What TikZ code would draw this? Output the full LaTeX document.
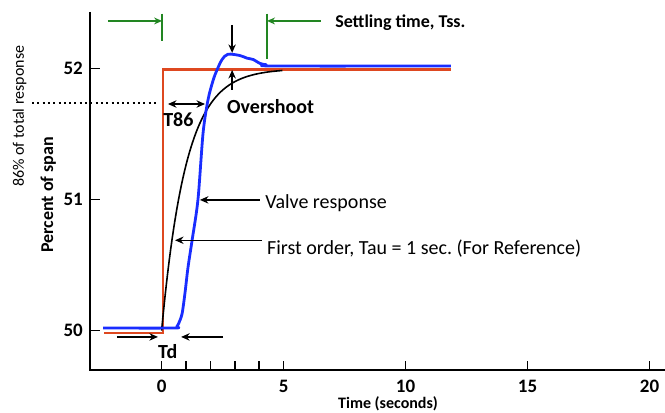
\documentclass[tikz,border=0pt]{standalone}
\usepackage{fontspec}
\setmainfont{Carlito}
\usetikzlibrary{arrows.meta}
\definecolor{stepred}{RGB}{222,72,32}
\definecolor{valveblue}{RGB}{25,45,255}
\definecolor{tssgreen}{RGB}{34,134,34}
\frenchspacing

\begin{document}
\begin{tikzpicture}[x=24.4pt, y=131pt, font=\fontsize{20}{24}\selectfont,
  ax/.style={line width=1.5pt}, tick/.style={font=\fontsize{19}{22}\selectfont\bfseries, inner sep=0pt},
  pt/.style={-{Stealth[length=3mm, width=2.6mm]}, line width=1.4pt},
  gr/.style={tssgreen, line width=1.3pt}, grpt/.style={gr, -{Stealth[length=2.8mm, width=2.4mm]}},
  lbl/.style={inner sep=0pt, anchor=base west}]
\useasboundingbox (-6.623,-0.628) rectangle (20.631,2.524);
% axes
\draw[ax] (-2.93,2.433) -- (-2.93,-0.30) -- (20.63,-0.30);
\foreach \v in {0,1,2} {
  \draw[ax] (-2.93,\v) -- (-2.52,\v);
  \node[tick, anchor=east] (yl\v) at (-3.22,\v) {5\v};
}
\foreach \t in {0,5,10,15,20} {
  \draw[ax] (\t,-0.30) -- (\t,-0.23);
  \node[tick, anchor=north] (xl\t) at (\t,-0.375) {\t};
}
\foreach \t in {1,...,4} \draw[ax] (\t,-0.30) -- (\t,-0.23);
\node[lbl, font=\fontsize{16}{19}\selectfont\bfseries, anchor=base] (time) at (9.28,-0.594) {Time (seconds)};
\node[lbl, rotate=90, font=\fontsize{18}{21}\selectfont\bfseries] (span) at (-4.45,0.593) {Percent of span};
\node[lbl, rotate=90, font=\fontsize{16}{19}\selectfont] (pct) at (-5.64,1.097) {86\% of total response};
% responses
\draw[stepred, line width=2.2pt] (-2.36,-0.015) -- (0.05,-0.015) -- (0.05,1.994) -- (11.86,1.994);
\draw[line width=1.6pt] plot[domain=0:4.95, samples=80] (\x,{2*(1-exp(-\x))});
\draw[valveblue, line width=2.8pt, line join=round] plot[smooth, tension=0.5] coordinates {
  (-2.40,0.02) (0.50,0.02) (0.62,0.03) (0.71,0.06) (0.84,0.13) (0.96,0.29) (1.08,0.48)
  (1.25,0.69) (1.49,1.00) (1.70,1.51) (1.90,1.76) (2.11,1.91) (2.27,1.99) (2.48,2.07)
  (2.72,2.11) (3.21,2.10) (3.50,2.08) (3.75,2.07) (4.03,2.04) (4.28,2.03) (4.65,2.02) (11.86,2.02)};
% 86% level and T86
\coordinate (d0) at (-5.31,1.737); \coordinate (d1) at (-0.15,1.737);
\draw[line width=2pt, dash pattern=on 2pt off 3.3pt] (d0) -- (d1);
\coordinate (t0) at (0.26,1.73); \coordinate (t1) at (1.78,1.73);
\draw[pt, {Stealth[length=3mm, width=2.6mm]}-{Stealth[length=3mm, width=2.6mm]}] (t0) -- (t1);
\node[lbl, font=\fontsize{20}{24}\selectfont\bfseries] (t86) at (0.06,1.557) {T86};
% overshoot
\coordinate (os0) at (2.89,2.334); \coordinate (os1) at (2.89,2.12);
\coordinate (os2) at (2.89,1.84); \coordinate (os3) at (2.89,1.99);
\draw[pt] (os0) -- (os1);
\draw[pt] (os2) -- (os3);
\node[lbl, font=\fontsize{20}{24}\selectfont\bfseries] (over) at (2.68,1.66) {Overshoot};
% settling time
\coordinate (g0) at (0.02,2.42); \coordinate (g1) at (0.02,2.21);
\coordinate (g2) at (4.32,2.42); \coordinate (g3) at (4.32,2.07);
\coordinate (ga) at (-2.20,2.364); \coordinate (gb) at (6.53,2.364);
\draw[gr] (g0) -- (g1);
\draw[gr] (g2) -- (g3);
\draw[grpt] (ga) -- (g0 |- ga);
\draw[grpt] (gb) -- (g2 |- gb);
\node[lbl, font=\fontsize{18}{21}\selectfont\bfseries] (tss) at (7.11,2.311) {Settling time, Tss.};
% curve labels
\node[lbl] (valve) at (4.24,0.929) {Valve response};
\node[lbl] (first) at (4.32,0.585) {First order, Tau = 1 sec. (For Reference)};
\coordinate (vr) at (1.57,0.998); \coordinate (fo) at (0.55,0.69);
\draw[pt] (vr -| 4.03,0) -- (vr);
\draw[pt] (fo -| 4.12,0) -- (fo);
% dead time
\coordinate (td0) at (-1.83,-0.048); \coordinate (td1) at (-0.15,-0.048);
\coordinate (td2) at (2.52,-0.048); \coordinate (td3) at (0.80,-0.048);
\draw[pt] (td0) -- (td1);
\draw[pt] (td2) -- (td3);
\node[lbl, font=\fontsize{20}{24}\selectfont\bfseries] (td) at (-0.15,-0.216) {Td};
\end{tikzpicture}
\end{document}
